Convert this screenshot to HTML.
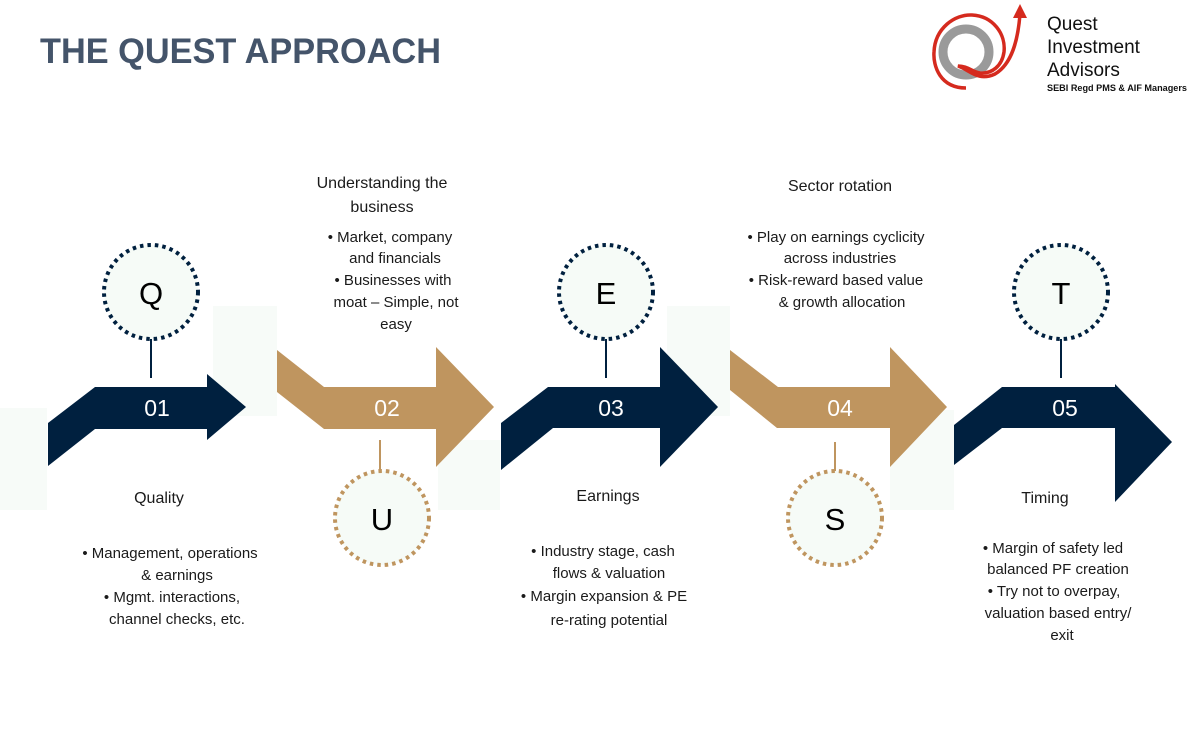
<!DOCTYPE html>
<html><head><meta charset="utf-8"><style>
html,body{margin:0;padding:0;background:#fff;width:1193px;height:734px;overflow:hidden}
svg{display:block}
text{font-family:"Liberation Sans",Arial,sans-serif}
.t{font-size:15px;fill:#1a1a1a;text-anchor:middle}
.n{font-size:23px;fill:#fff;text-anchor:middle}
.l{font-size:31px;fill:#000;text-anchor:middle}
</style></head><body>
<svg width="1193" height="734" viewBox="0 0 1193 734" xmlns="http://www.w3.org/2000/svg">
<!-- faint bg rects -->
<g fill="#f7fbf8">
<rect x="0" y="408" width="47" height="102"/>
<rect x="213" y="306" width="64" height="110"/>
<rect x="438" y="440" width="62" height="70"/>
<rect x="667" y="306" width="63" height="110"/>
<rect x="890" y="410" width="64" height="100"/>
</g>
<text x="40" y="63" font-size="35" font-weight="bold" fill="#44546a" textLength="401" lengthAdjust="spacingAndGlyphs">THE QUEST APPROACH</text>

<!-- logo -->
<circle cx="966" cy="52" r="23" fill="none" stroke="#9a9a9a" stroke-width="9"/>
<path d="M966 88 C 940 88, 933 66, 934 52 C 935 28, 955 14, 972 15 C 993 16, 1006 34, 1004 52 C 1002 66, 992 74, 980 73 C 972 72, 968 66, 958 66 C 970 70, 978 82, 995 74 C 1012 64, 1018 40, 1020 14" fill="none" stroke="#d52a1e" stroke-width="3.5"/>
<polygon points="1020,4 1013,18 1027,18" fill="#d52a1e"/>
<text x="1047" y="30" font-size="19" fill="#111">Quest</text>
<text x="1047" y="53" font-size="19" fill="#111">Investment</text>
<text x="1047" y="76" font-size="19" fill="#111">Advisors</text>
<text x="1047" y="91" font-size="9.5" fill="#111" font-weight="bold" textLength="140" lengthAdjust="spacingAndGlyphs">SEBI Regd PMS &amp; AIF Managers</text>

<!-- arrows -->
<polygon points="48,423 95,387 207,387 207,374 246,407 207,440 207,429 95,429 48,466" fill="#00203f"/>
<polygon points="277,350 324,387 436,387 436,347 494,407 436,467 436,429 324,429 277,392" fill="#bf955f"/>
<polygon points="501,423 548,387 660,387 660,347 718,407 660,467 660,428 553,428 501,470" fill="#00203f"/>
<polygon points="730,350 778,387 890,387 890,347 947,407 890,467 890,428 777,428 730,390" fill="#bf955f"/>
<polygon points="954,425 1002,387 1115,387 1115,384 1172,442 1115,502 1115,428 1002,428 954,465" fill="#00203f"/>
<text class="n" x="157" y="416">01</text>
<text class="n" x="387" y="416">02</text>
<text class="n" x="611" y="416">03</text>
<text class="n" x="840" y="416">04</text>
<text class="n" x="1065" y="416">05</text>

<!-- connectors -->
<g stroke-width="2">
<line x1="151" y1="339" x2="151" y2="378" stroke="#00203f"/>
<line x1="380" y1="440" x2="380" y2="472" stroke="#bf955f"/>
<line x1="606" y1="339" x2="606" y2="378" stroke="#00203f"/>
<line x1="835" y1="442" x2="835" y2="472" stroke="#bf955f"/>
<line x1="1061" y1="339" x2="1061" y2="378" stroke="#00203f"/>
</g>
<!-- circles -->
<g fill="#f6fbf7" stroke-width="4" stroke-dasharray="3.5 4">
<circle cx="151" cy="292" r="47" stroke="#00203f"/>
<circle cx="382" cy="518" r="47" stroke="#bf955f"/>
<circle cx="606" cy="292" r="47" stroke="#00203f"/>
<circle cx="835" cy="518" r="47" stroke="#bf955f"/>
<circle cx="1061" cy="292" r="47" stroke="#00203f"/>
</g>
<text class="l" x="151" y="304">Q</text>
<text class="l" x="382" y="530">U</text>
<text class="l" x="606" y="304">E</text>
<text class="l" x="835" y="530">S</text>
<text class="l" x="1061" y="304">T</text>

<!-- texts -->
<text class="t" x="382" y="188" style="font-size:16px">Understanding the</text>
<text class="t" x="382" y="212" style="font-size:16px">business</text>
<text class="t" x="390" y="242">• Market, company</text>
<text class="t" x="395" y="263">and financials</text>
<text class="t" x="393" y="285">• Businesses with</text>
<text class="t" x="396" y="307">moat – Simple, not</text>
<text class="t" x="396" y="329">easy</text>

<text class="t" x="840" y="191" style="font-size:16px">Sector rotation</text>
<text class="t" x="836" y="242">• Play on earnings cyclicity</text>
<text class="t" x="840" y="263">across industries</text>
<text class="t" x="836" y="285">• Risk-reward based value</text>
<text class="t" x="842" y="307">&amp; growth allocation</text>

<text class="t" x="159" y="503" style="font-size:16px">Quality</text>
<text class="t" x="170" y="558">• Management, operations</text>
<text class="t" x="177" y="580">&amp; earnings</text>
<text class="t" x="172" y="602">• Mgmt. interactions,</text>
<text class="t" x="177" y="624">channel checks, etc.</text>

<text class="t" x="608" y="501" style="font-size:16px">Earnings</text>
<text class="t" x="603" y="556">• Industry stage, cash</text>
<text class="t" x="609" y="578">flows &amp; valuation</text>
<text class="t" x="604" y="601">• Margin expansion &amp; PE</text>
<text class="t" x="609" y="625">re-rating potential</text>

<text class="t" x="1045" y="503" style="font-size:16px">Timing</text>
<text class="t" x="1053" y="553">• Margin of safety led</text>
<text class="t" x="1058" y="574">balanced PF creation</text>
<text class="t" x="1054" y="596">• Try not to overpay,</text>
<text class="t" x="1058" y="618">valuation based entry/</text>
<text class="t" x="1062" y="640">exit</text>
</svg>
</body></html>
